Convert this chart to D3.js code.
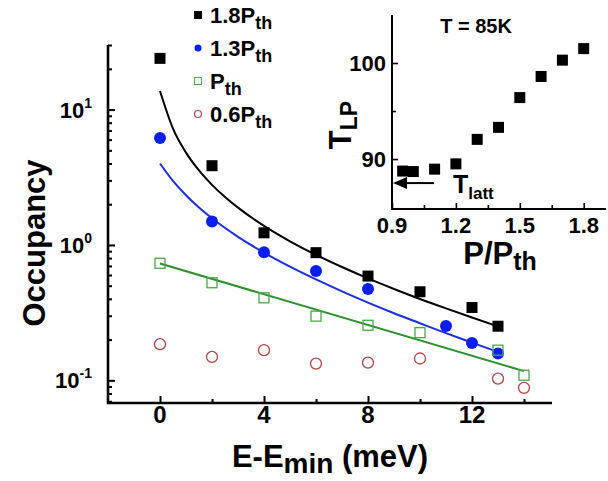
<!DOCTYPE html>
<html><head><meta charset="utf-8">
<script src="https://cdn.jsdelivr.net/npm/d3@7"></script>
<style>body{margin:0;background:#fff}svg{display:block}text{font-family:"Liberation Sans",Arial,sans-serif;font-weight:bold}</style>
</head><body><svg id="c" width="608" height="481"></svg>
<script>
// ---- main panel data ----
const energy18 = [0, 2, 4, 6, 8, 10, 12, 13];
const occ18 = [23.9, 3.85, 1.23, 0.877, 0.589, 0.451, 0.345, 0.251];
const energy13 = [0, 2, 4, 6, 8, 11, 12, 13];
const occ13 = [6.17, 1.49, 0.883, 0.642, 0.472, 0.252, 0.189, 0.158];
const energyP = [0, 2, 4, 6, 8, 10, 13, 14];
const occP = [0.732, 0.526, 0.407, 0.298, 0.255, 0.225, 0.167, 0.109];
const energy06 = [0, 2, 4, 6, 8, 10, 13, 14];
const occ06 = [0.185, 0.149, 0.167, 0.133, 0.135, 0.145, 0.103, 0.088];
// fitted curves
const fitE18 = [0, 0.5, 1, 1.5, 2, 2.5, 3, 4, 5, 6, 7, 8, 9, 10, 11, 12, 13];
const fit18 = [13.71, 7.23, 4.81, 3.55, 2.78, 2.26, 1.886, 1.384, 1.065, 0.846, 0.687, 0.566, 0.473, 0.399, 0.340, 0.291, 0.250];
const fitE13 = [0, 0.5, 1, 1.5, 2, 3, 4, 5, 6, 7, 8, 9, 10, 11, 12, 13];
const fit13 = [4.00, 2.97, 2.33, 1.89, 1.574, 1.148, 0.877, 0.691, 0.556, 0.454, 0.375, 0.313, 0.264, 0.223, 0.190, 0.162];
const fitEP = [0, 14];
const fitP = [0.73, 0.117];
const xTicksMajor = [0, 4, 8, 12];
const xTicksMinor = [2, 6, 10, 14];
const yTicksMajor = [0.1, 1, 10];
const yTickExp = ["-1", "0", "1"];
const yTicksMinor = [0.07, 0.08, 0.09, 0.2, 0.3, 0.4, 0.5, 0.6, 0.7, 0.8, 0.9, 2, 3, 4, 5, 6, 7, 8, 9, 20, 30];
const legendLabels = ["1.8P", "1.3P", "P", "0.6P"];
// ---- inset data ----
const ratio = [0.95, 1.0, 1.1, 1.2, 1.3, 1.4, 1.5, 1.6, 1.7, 1.8];
const tLP = [88.75, 88.7, 88.95, 89.5, 92.05, 93.3, 96.4, 98.6, 100.3, 101.5];
const inXMajor = [0.9, 1.2, 1.5, 1.8];
const inXMinor = [1.05, 1.35, 1.65];
const inYMajor = [90, 100];
const inYMinor = [95];
const tLatt = 87.5;

const svg = d3.select("#c");
const x = d3.scaleLinear().domain([-2, 15]).range([108, 550]);
const y = d3.scaleLog().domain([0.068, 30]).range([403, 45]);

function richText(g, px, py, parts, anchor) {
  const t = g.append("text").attr("x", px).attr("y", py).attr("text-anchor", anchor || "start");
  parts.forEach(p => {
    t.append("tspan").attr("font-size", p.s).attr("dy", p.dy || 0).text(p.t);
  });
  return t;
}

// axes main
const gy = svg.append("g").attr("transform", "translate(108,0)");
gy.call(d3.axisLeft(y).tickValues(yTicksMajor).tickSize(-7).tickFormat(""));
gy.call(g => g.append("g").call(d3.axisLeft(y).tickValues(yTicksMinor).tickSize(-4).tickFormat("")));
gy.selectAll("path.domain").remove();
gy.selectAll("line").attr("stroke", "#000").attr("stroke-width", 2);
const gx = svg.append("g").attr("transform", "translate(0,403)");
gx.call(d3.axisBottom(x).tickValues(xTicksMajor).tickSize(-7).tickFormat(""));
gx.call(g => g.append("g").call(d3.axisBottom(x).tickValues(xTicksMinor).tickSize(-4).tickFormat("")));
gx.selectAll("path.domain").remove();
gx.selectAll("line").attr("stroke", "#000").attr("stroke-width", 2);
svg.append("line").attr("x1", 108).attr("x2", 108).attr("y1", y(30)).attr("y2", 404).attr("stroke", "#000").attr("stroke-width", 2.6);
svg.append("line").attr("x1", 107).attr("x2", 552).attr("y1", 403).attr("y2", 403).attr("stroke", "#000").attr("stroke-width", 2.6);

// tick labels
xTicksMajor.forEach(v => {
  svg.append("text").attr("x", x(v)).attr("y", 423).attr("text-anchor", "middle").attr("font-size", 24).text(v);
});
yTicksMajor.forEach((v, i) => {
  const t = svg.append("text").attr("x", 92).attr("y", y(v) + 8).attr("text-anchor", "end");
  t.append("tspan").attr("font-size", 22).text("10");
  t.append("tspan").attr("font-size", 14).attr("dy", -10).text(yTickExp[i]);
});

// axis titles
svg.append("text").attr("transform", "translate(45,243) rotate(-90)").attr("text-anchor", "middle").attr("font-size", 31).text("Occupancy");
richText(svg, 330, 467, [{t: "E-E", s: 31}, {t: "min", s: 28, dy: 6}, {t: " (meV)", s: 31, dy: -6}], "middle");

// fit lines
const line = d3.line().x(d => x(d[0])).y(d => y(d[1])).curve(d3.curveMonotoneX);
svg.append("path").attr("d", line(fitE18.map((e, i) => [e, fit18[i]]))).attr("fill", "none").attr("stroke", "#000").attr("stroke-width", 2);
svg.append("path").attr("d", line(fitE13.map((e, i) => [e, fit13[i]]))).attr("fill", "none").attr("stroke", "#1a2ee0").attr("stroke-width", 2);
svg.append("path").attr("d", line(fitEP.map((e, i) => [e, fitP[i]]))).attr("fill", "none").attr("stroke", "#2b8f2b").attr("stroke-width", 2);

// markers
const sq = 11;
svg.selectAll(".s18").data(energy18.map((e, i) => [e, occ18[i]])).enter().append("rect")
  .attr("x", d => x(d[0]) - sq / 2).attr("y", d => y(d[1]) - sq / 2).attr("width", sq).attr("height", sq).attr("fill", "#000");
svg.selectAll(".s13").data(energy13.map((e, i) => [e, occ13[i]])).enter().append("circle")
  .attr("cx", d => x(d[0])).attr("cy", d => y(d[1])).attr("r", 6).attr("fill", "#0a1ef0");
svg.selectAll(".sP").data(energyP.map((e, i) => [e, occP[i]])).enter().append("rect")
  .attr("x", d => x(d[0]) - 5).attr("y", d => y(d[1]) - 5).attr("width", 10).attr("height", 10).attr("fill", "none").attr("stroke", "#4aa84a").attr("stroke-width", 1.3);
svg.selectAll(".s06").data(energy06.map((e, i) => [e, occ06[i]])).enter().append("circle")
  .attr("cx", d => x(d[0])).attr("cy", d => y(d[1])).attr("r", 5.5).attr("fill", "none").attr("stroke", "#b04444").attr("stroke-width", 1.3);

// legend
const legY = [23, 56, 89, 122];
const lg = svg.append("g");
lg.append("rect").attr("x", 194).attr("y", legY[0] - 12).attr("width", 8).attr("height", 8).attr("fill", "#000");
lg.append("circle").attr("cx", 198).attr("cy", legY[1] - 8).attr("r", 3.5).attr("fill", "#0a1ef0");
lg.append("rect").attr("x", 194.5).attr("y", legY[2] - 11.5).attr("width", 7).attr("height", 7).attr("fill", "none").attr("stroke", "#4aa84a").attr("stroke-width", 1);
lg.append("circle").attr("cx", 198).attr("cy", legY[3] - 8).attr("r", 3.5).attr("fill", "none").attr("stroke", "#b04444").attr("stroke-width", 1.2);
legendLabels.forEach((l, i) => {
  richText(lg, 210, legY[i], [{t: l, s: 22}, {t: "th", s: 18, dy: 6}]);
});

// ---- inset ----
const xi = d3.scaleLinear().domain([0.9, 1.9]).range([392, 605]);
const yi = d3.scaleLinear().domain([84.8, 105]).range([209, 15]);
const giy = svg.append("g").attr("transform", "translate(392,0)");
giy.call(d3.axisLeft(yi).tickValues(inYMajor).tickSize(-6).tickFormat(""));
giy.call(g => g.append("g").call(d3.axisLeft(yi).tickValues(inYMinor).tickSize(-4).tickFormat("")));
giy.selectAll("path.domain").remove();
giy.selectAll("line").attr("stroke", "#000").attr("stroke-width", 1.6);
const gix = svg.append("g").attr("transform", "translate(0,209)");
gix.call(d3.axisBottom(xi).tickValues(inXMajor).tickSize(-6).tickFormat(""));
gix.call(g => g.append("g").call(d3.axisBottom(xi).tickValues(inXMinor).tickSize(-4).tickFormat("")));
gix.selectAll("path.domain").remove();
gix.selectAll("line").attr("stroke", "#000").attr("stroke-width", 1.6);
svg.append("line").attr("x1", 392).attr("x2", 392).attr("y1", 15).attr("y2", 210).attr("stroke", "#000").attr("stroke-width", 2);
svg.append("line").attr("x1", 391).attr("x2", 606).attr("y1", 209).attr("y2", 209).attr("stroke", "#000").attr("stroke-width", 2);
inXMajor.forEach(v => {
  svg.append("text").attr("x", xi(v)).attr("y", 233).attr("text-anchor", "middle").attr("font-size", 22).text(d3.format(".1f")(v));
});
inYMajor.forEach(v => {
  svg.append("text").attr("x", 386).attr("y", yi(v) + 8).attr("text-anchor", "end").attr("font-size", 22).text(v);
});
svg.selectAll(".ins").data(ratio.map((r, i) => [r, tLP[i]])).enter().append("rect")
  .attr("x", d => xi(d[0]) - 5.5).attr("y", d => yi(d[1]) - 5.5).attr("width", 11).attr("height", 11).attr("fill", "#000");
svg.append("text").attr("x", 476).attr("y", 33).attr("text-anchor", "middle").attr("font-size", 20).text("T = 85K");
const tl = svg.append("text").attr("transform", "translate(351,125) rotate(-90)").attr("text-anchor", "middle");
tl.append("tspan").attr("font-size", 31).text("T");
tl.append("tspan").attr("font-size", 23).attr("dy", 6).text("LP");
richText(svg, 500, 264, [{t: "P/P", s: 31}, {t: "th", s: 25, dy: 6}], "middle");
// arrow to lattice temperature
svg.append("line").attr("x1", 434).attr("x2", 404).attr("y1", yi(tLatt)).attr("y2", yi(tLatt)).attr("stroke", "#000").attr("stroke-width", 2);
svg.append("path").attr("d", `M${xi(0.9) + 1},${yi(tLatt)} l14,-6 l0,12 z`).attr("fill", "#000");
richText(svg, 453, 193, [{t: "T", s: 25}, {t: "latt", s: 17, dy: 6}]);
</script></body></html>
